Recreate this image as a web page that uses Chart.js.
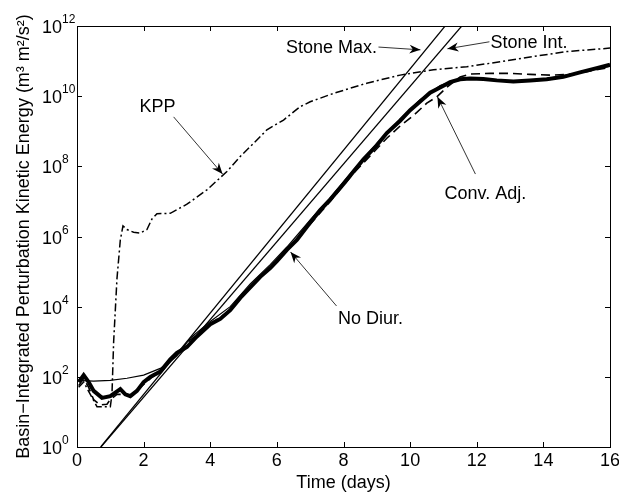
<!DOCTYPE html>
<html>
<head>
<meta charset="utf-8">
<script src="https://cdn.jsdelivr.net/npm/chart.js@4/dist/chart.umd.min.js"></script>
<style>
  html, body { margin: 0; padding: 0; background: #fff; }
</style>
</head>
<body>
<canvas id="myChart" width="619" height="493"></canvas>
<script>
const FONT = '"Liberation Sans", Arial, Helvetica, sans-serif';

// x ticks (days) and y ticks (powers of ten)
const dayTicks = [0, 2, 4, 6, 8, 10, 12, 14, 16];
const expTicks = [0, 2, 4, 6, 8, 10, 12];

// values: time in days, energy as log10
const noDiurDays = [0.05, 0.2, 0.35, 0.5, 0.75, 1.0, 1.15, 1.3, 1.45, 1.6, 1.8, 2.0, 2.2, 2.5, 2.8, 3.0, 3.3, 3.6, 4.0, 4.3, 4.6, 4.9, 5.2, 5.5, 5.8, 6.0, 6.3, 6.6, 7.0, 7.3, 7.6, 8.0, 8.3, 8.6, 9.0, 9.3, 9.7, 10.0, 10.3, 10.6, 10.9, 11.2, 11.5, 11.8, 12.2, 12.6, 13.1, 13.6, 14.1, 14.6, 15.1, 15.6, 16.0];
const noDiurExp = [1.85, 2.05, 1.85, 1.6, 1.4, 1.45, 1.55, 1.65, 1.5, 1.45, 1.6, 1.85, 2.0, 2.15, 2.5, 2.68, 2.85, 3.15, 3.5, 3.65, 3.9, 4.25, 4.55, 4.85, 5.1, 5.3, 5.62, 5.9, 6.4, 6.75, 7.05, 7.5, 7.85, 8.2, 8.6, 8.95, 9.3, 9.6, 9.85, 10.1, 10.25, 10.4, 10.48, 10.5, 10.49, 10.45, 10.42, 10.45, 10.48, 10.55, 10.68, 10.8, 10.9];

const controlDays = [0, 0.5, 1.0, 1.5, 2.0, 2.5, 2.8, 3.0, 3.4, 4.0, 4.6, 5.2, 5.8, 6.3, 7.0, 7.6, 8.3, 9.0, 9.7, 10.3, 10.9, 11.5, 12.2, 13.1, 14.1, 15.1, 16.0];
const controlExp = [1.9, 1.88, 1.9, 1.96, 2.05, 2.24, 2.43, 2.6, 3.1, 3.58, 4.0, 4.65, 5.2, 5.7, 6.47, 7.1, 7.9, 8.65, 9.35, 9.9, 10.3, 10.5, 10.5, 10.43, 10.5, 10.68, 10.85];

const convAdjDays = [0.05, 0.2, 0.35, 0.5, 0.7, 0.9, 1.0, 1.2, 1.4, 1.6, 1.9, 2.2, 2.5, 2.8, 3.0, 3.4, 4.0, 4.6, 5.2, 5.8, 6.3, 7.0, 7.6, 8.3, 9.0, 9.3, 9.7, 10.1, 10.5, 10.8, 11.1, 11.5, 11.8, 12.4, 13.0, 13.6, 14.2, 14.8, 15.3, 16.0];
const convAdjExp = [1.75, 1.95, 1.7, 1.35, 1.2, 1.22, 1.35, 1.5, 1.5, 1.48, 1.7, 1.95, 2.15, 2.48, 2.66, 3.05, 3.5, 3.9, 4.55, 5.1, 5.6, 6.35, 7.0, 7.8, 8.5, 8.8, 9.15, 9.45, 9.8, 9.98, 10.25, 10.55, 10.63, 10.65, 10.65, 10.62, 10.6, 10.62, 10.7, 10.82];

const kppDays = [0.05, 0.2, 0.4, 0.6, 0.8, 1.0, 1.05, 1.1, 1.2, 1.3, 1.38, 1.5, 1.7, 1.9, 2.1, 2.25, 2.4, 2.8, 3.3, 3.9, 4.5, 4.9, 5.4, 5.7, 6.2, 6.7, 7.0, 7.7, 8.7, 9.7, 10.7, 11.7, 12.7, 13.7, 14.7, 16.0];
const kppExp = [1.7, 1.85, 1.5, 1.15, 1.15, 1.15, 1.5, 3.0, 4.8, 5.9, 6.3, 6.2, 6.12, 6.1, 6.2, 6.5, 6.65, 6.66, 6.92, 7.33, 7.85, 8.28, 8.75, 9.04, 9.32, 9.7, 9.84, 10.08, 10.37, 10.6, 10.75, 10.84, 10.98, 11.13, 11.27, 11.37];

const stoneMaxDays = [0.71, 11.05];
const stoneMaxExp = [0, 12];
const stoneIntDays = [0.72, 11.55];
const stoneIntExp = [0, 12];

// labels with arrows, in data coordinates (days, log10)
const notes = [
  { text: 'KPP', at: [2.42, 9.72], from: [2.9, 9.41], to: [4.37, 7.78] },
  { text: 'Stone Max.', at: [7.64, 11.4], from: [9.05, 11.4], to: [10.31, 11.32] },
  { text: 'Stone Int.', at: [13.57, 11.53], from: [12.38, 11.55], to: [11.12, 11.35] },
  { text: 'Conv. Adj.', at: [12.26, 7.23], from: [11.96, 7.78], to: [10.82, 9.98] },
  { text: 'No Diur.', at: [8.81, 3.67], from: [7.79, 4.02], to: [6.41, 5.56] },
];

function toPoints(days, exps) {
  return days.map((t, i) => ({ x: t, y: Math.pow(10, exps[i]) }));
}

function lineSet(label, days, exps, width, dash) {
  return {
    label: label,
    data: toPoints(days, exps),
    borderColor: '#000',
    borderWidth: width,
    borderDash: dash,
    pointRadius: 0,
    tension: 0,
    fill: false,
  };
}

const figurePlugin = {
  id: 'figure',
  afterDraw(chart) {
    const ctx = chart.ctx;
    const a = chart.chartArea;
    const xs = chart.scales.x;
    const ys = chart.scales.y;
    const px = (t) => xs.getPixelForValue(t);
    const py = (e) => ys.getPixelForValue(Math.pow(10, e));

    ctx.save();
    ctx.strokeStyle = '#000';
    ctx.fillStyle = '#000';
    ctx.lineWidth = 1;

    // box and inward ticks
    ctx.strokeRect(Math.round(a.left) + 0.5, Math.round(a.top) + 0.5,
      Math.round(a.right - a.left), Math.round(a.bottom - a.top));
    ctx.beginPath();
    dayTicks.forEach((t) => {
      const x = Math.round(px(t)) + 0.5;
      ctx.moveTo(x, a.bottom); ctx.lineTo(x, a.bottom - 5);
      ctx.moveTo(x, a.top); ctx.lineTo(x, a.top + 5);
    });
    expTicks.forEach((e) => {
      const y = Math.round(py(e)) + 0.5;
      ctx.moveTo(a.left, y); ctx.lineTo(a.left + 5, y);
      ctx.moveTo(a.right, y); ctx.lineTo(a.right - 5, y);
    });
    ctx.stroke();

    // y tick labels 10^n
    ctx.textBaseline = 'alphabetic';
    expTicks.forEach((e) => {
      const y = py(e);
      ctx.font = '18px ' + FONT;
      ctx.textAlign = 'right';
      ctx.fillText('10', a.left - 15, y + 7);
      ctx.font = '12px ' + FONT;
      ctx.textAlign = 'left';
      ctx.fillText(String(e), a.left - 15, y - 3);
    });

    // axis titles
    ctx.font = '18px ' + FONT;
    ctx.textAlign = 'center';
    ctx.fillText('Time (days)', (a.left + a.right) / 2, 488);
    ctx.save();
    ctx.translate(29, (a.top + a.bottom) / 2);
    ctx.rotate(-Math.PI / 2);
    ctx.fillText('Basin\u2212Integrated Perturbation Kinetic Energy (m\u00b3 m\u00b2/s\u00b2)', 0, 0);
    ctx.restore();

    // annotations
    notes.forEach((n) => {
      ctx.font = '18px ' + FONT;
      ctx.textAlign = 'center';
      ctx.textBaseline = 'middle';
      ctx.fillText(n.text, px(n.at[0]), py(n.at[1]) + 1);
      const x0 = px(n.from[0]), y0 = py(n.from[1]);
      const x1 = px(n.to[0]), y1 = py(n.to[1]);
      ctx.strokeStyle = '#333';
      ctx.lineWidth = 1;
      ctx.beginPath();
      ctx.moveTo(x0, y0);
      ctx.lineTo(x1, y1);
      ctx.stroke();
      const ang = Math.atan2(y1 - y0, x1 - x0);
      const len = 11, half = 4.5;
      ctx.save();
      ctx.translate(x1, y1);
      ctx.rotate(ang);
      ctx.beginPath();
      ctx.moveTo(0, 0);
      ctx.lineTo(-len, -half);
      ctx.lineTo(-len * 0.7, 0);
      ctx.lineTo(-len, half);
      ctx.closePath();
      ctx.fill();
      ctx.restore();
    });
    ctx.restore();
  },
};

const config = {
  type: 'line',
  data: {
    datasets: [
      lineSet('Stone Max.', stoneMaxDays, stoneMaxExp, 1.2, []),
      lineSet('Stone Int.', stoneIntDays, stoneIntExp, 1.2, []),
      lineSet('KPP', kppDays, kppExp, 1.5, [8, 3, 2, 3]),
      lineSet('Control', controlDays, controlExp, 1.2, []),
      lineSet('No Diur.', noDiurDays, noDiurExp, 4, []),
      lineSet('Conv. Adj.', convAdjDays, convAdjExp, 1.6, [9, 5]),
    ],
  },
  options: {
    responsive: false,
    devicePixelRatio: 1,
    animation: false,
    layout: { padding: { top: 26, right: 9, left: 0, bottom: 0 } },
    plugins: { legend: { display: false }, tooltip: { enabled: false } },
    scales: {
      x: {
        type: 'linear',
        min: 0,
        max: 16,
        grid: { display: false, drawTicks: false },
        border: { display: false },
        ticks: {
          stepSize: 2,
          autoSkip: false,
          maxRotation: 0,
          padding: 3,
          color: '#000',
          font: { family: FONT, size: 18 },
        },
        afterFit(s) { s.height = 46; s.paddingLeft = 0; s.paddingRight = 0; },
      },
      y: {
        type: 'logarithmic',
        min: 1,
        max: 1e12,
        grid: { display: false, drawTicks: false },
        border: { display: false },
        ticks: { display: false },
        afterFit(s) { s.width = 77; s.paddingTop = 0; s.paddingBottom = 0; },
      },
    },
  },
  plugins: [figurePlugin],
};

const myChart = new Chart(document.getElementById('myChart'), config);
</script>
</body>
</html>
